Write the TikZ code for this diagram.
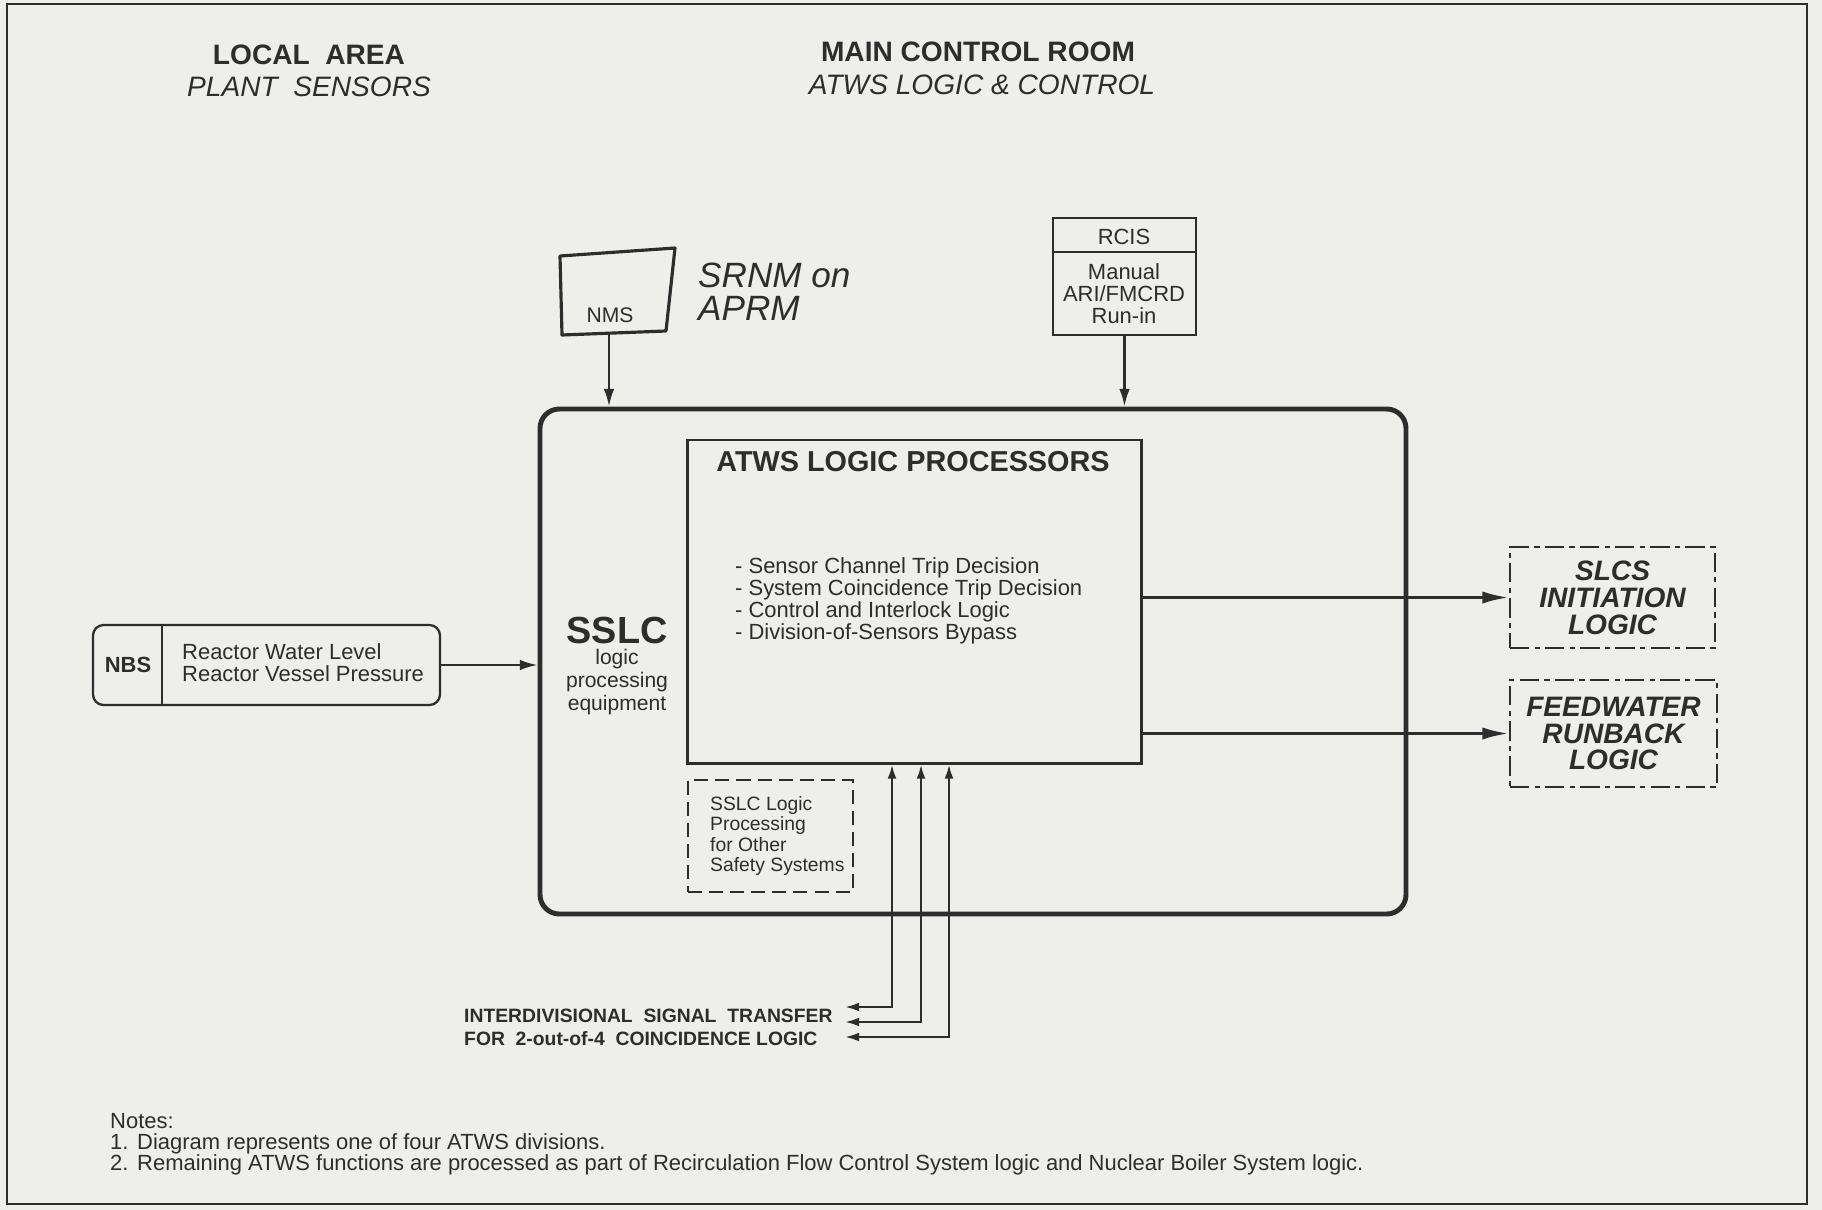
\documentclass[tikz,border=0pt]{standalone}
\usepackage{fontspec}
\setmainfont{Liberation Sans}
\usepackage{tikz}
\usetikzlibrary{arrows.meta, positioning, fit, calc}
\definecolor{paper}{RGB}{238,238,235}
\definecolor{ink}{RGB}{45,45,45}
\newcommand{\fsz}[2]{\fontsize{#1}{#2}\selectfont}

\begin{document}
\begin{tikzpicture}[
    x=0.02cm, y=-0.02cm,
    every node/.style={text=ink},
    hdr/.style={font=\fsz{16}{19}\bfseries},
    hdrit/.style={font=\fsz{16}{19}\itshape},
    box/.style={draw=ink,line width=1.3pt,inner sep=0pt},
    sslcbox/.style={draw=ink,line width=2.8pt,inner sep=0pt,rounded corners=11pt},
    dashbox/.style={draw=ink,line width=1.3pt,inner sep=0pt,dash pattern=on 8pt off 4pt},
    dotbox/.style={draw=ink,line width=1.6pt,inner sep=0pt,
      dash pattern=on 11pt off 3pt on 3pt off 3pt},
    outlbl/.style={font=\fsz{16}{15.3}\bfseries\itshape,align=center},
    txt/.style={font=\fsz{12.5}{12.6},align=left},
    arrs/.style={draw=ink,line width=1.4pt,-{Latex[length=10pt,width=6pt]}},
    arrb/.style={draw=ink,line width=1.7pt,-{Latex[length=15pt,width=7pt]}},
    biarr/.style={draw=ink,line width=1.3pt,
      {Latex[length=8pt,width=5pt]}-{Latex[length=8pt,width=5pt]}}
  ]
  \useasboundingbox (0,0) rectangle (1822,1210);
  \fill[paper] (0,0) rectangle (1822,1210);
  \draw[ink,line width=1.3pt] (7,4) rectangle (1807,1204);

  % headings
  \node[hdr] (local) at (309,55) {LOCAL\ \ AREA};
  \node[hdrit] (sensors) at (309,87) {PLANT\ \ SENSORS};
  \node[hdr] (mcr) at (978,52) {MAIN CONTROL ROOM};
  \node[hdrit] (atwsctl) at (982,85) {ATWS LOGIC \& CONTROL};

  % SSLC cabinet
  \node[sslcbox,fit={(540,409) (1406,914)}] (sslc) {};
  \node[font=\fsz{21.5}{24}\bfseries] (sslcname) at (617,630) {SSLC};
  \node[font=\fsz{12}{13.3},align=center] (sslctext) at (617,682)
    {logic\\processing\\equipment};

  % ATWS logic processors
  \node[box,line width=1.7pt,fit={(687,440) (1141,763)}] (alp) {};
  \node[font=\fsz{16.4}{19}\bfseries] (alpname) at (913,462) {ATWS LOGIC PROCESSORS};
  \node[txt,anchor=west] (alptext) at (729,601) {%
    - Sensor Channel Trip Decision\\
    - System Coincidence Trip Decision\\
    - Control and Interlock Logic\\
    - Division-of-Sensors Bypass};

  % other safety systems
  \node[dashbox,fit={(688,780) (853,892)}] (other) {};
  \node[font=\fsz{11}{11.7},align=left,anchor=west] (othertext) at (704,836)
    {SSLC Logic\\Processing\\for Other\\Safety Systems};

  % NMS (hand drawn)
  \draw[ink,line width=1.8pt,line join=round]
    (560,256) -- (675,248) -- (666,331) -- (562,335) -- cycle;
  \node[font=\fsz{12}{14}] (nms) at (610,315) {NMS};
  \coordinate (nmsb) at (609,334);
  \node[font=\fsz{20}{19}\itshape,align=left,anchor=west] (note) at (692,292)
    {SRNM on\\APRM};
  \draw[arrs] (nmsb) -- (nmsb |- sslc.north);

  % RCIS
  \node[box,fit={(1053,218) (1196,335)}] (rcis) {};
  \draw[ink,line width=1.1pt] ($(rcis.north west)+(0,35)$) -- ($(rcis.north east)+(0,35)$);
  \node[font=\fsz{12.5}{14}] (rcisname) at (1124,237) {RCIS};
  \node[font=\fsz{12.5}{12.6},align=center] (rcistext) at (1124,294)
    {Manual\\ARI/FMCRD\\Run-in};
  \draw[arrs] (rcis.south) -- (rcis.south |- sslc.north);

  % NBS
  \node[box,rounded corners=6pt,fit={(93,625) (440,705)}] (nbs) {};
  \draw[ink,line width=1.3pt] ($(nbs.north west)+(70,0)$) -- ($(nbs.south west)+(70,0)$);
  \node[font=\fsz{12.5}{14}\bfseries] (nbsname) at (128,665) {NBS};
  \node[txt,anchor=west] (nbstext) at (176,663)
    {Reactor Water Level\\Reactor Vessel Pressure};
  \draw[arrs] (nbs.east) -- (sslc.west |- nbs.east);

  % outputs
  \node[dotbox,fit={(1510,547) (1715,648)}] (slcs) {};
  \node[outlbl] (slcstext) at (slcs.center) {SLCS\\INITIATION\\LOGIC};
  \node[dotbox,fit={(1510,680) (1717,787)}] (fw) {};
  \node[outlbl] (fwtext) at (fw.center) {FEEDWATER\\RUNBACK\\LOGIC};
  \draw[arrb] (alp.east |- slcs.west) -- (slcs.west);
  \draw[arrb] (alp.east |- fw.west) -- (fw.west);

  % interdivisional signals
  \foreach \dx/\yy/\nm in {-22/1007/a, 7/1022/b, 35/1037/c}{
    \coordinate (ids\nm) at (845,\yy);
    \draw[biarr] (ids\nm) -| ($(alp.south)+(\dx,0)$);
  }
  \node[font=\fsz{11}{13}\bfseries,align=left,anchor=west] (idstext) at (458,1027)
    {INTERDIVISIONAL\ \ SIGNAL\ \ TRANSFER\\FOR\ \ 2-out-of-4\ \ COINCIDENCE LOGIC};

  % notes
  \node[font=\fsz{12.5}{12},align=left,anchor=north west] (notes) at (104,1107) {%
    Notes:\\
    \makebox[0.54cm][l]{1.}Diagram represents one of four ATWS divisions.\\
    \makebox[0.54cm][l]{2.}Remaining ATWS functions are processed as part of
    Recirculation Flow Control System logic and Nuclear Boiler System logic.};
\end{tikzpicture}
\end{document}
